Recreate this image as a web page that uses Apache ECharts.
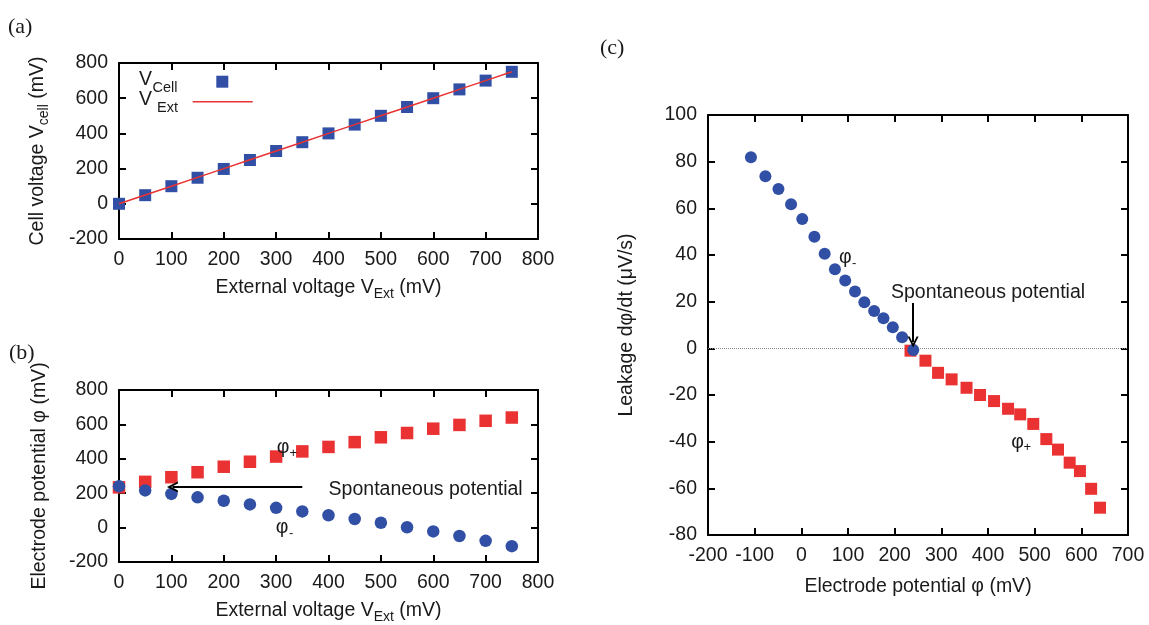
<!DOCTYPE html>
<html>
<head>
<meta charset="utf-8">
<script src="https://cdn.jsdelivr.net/npm/echarts@6/dist/echarts.min.js"></script>
<style>
html,body{margin:0;padding:0;background:#fff;}
#chart{width:1149px;height:625px;}
</style>
</head>
<body>
<div id="chart"></div>
<script>
// ---------- data ----------
// (a) cell voltage vs external voltage
const vExt = [0, 50, 100, 150, 200, 250, 300, 350, 400, 450, 500, 550, 600, 650, 700, 750];
const vCell = [0, 49, 100, 148, 198, 249, 300, 350, 400, 450, 500, 550, 600, 650, 700, 750];
// (b) electrode potentials vs external voltage
const phiPlus = [234, 266, 293, 322, 354, 383, 413, 443, 469, 497, 525, 550, 575, 597, 621, 640];
const phiMinus = [240, 216, 196, 176, 156, 135, 115, 94, 72, 50, 28, 2, -22, -49, -77, -108];
// (c) leakage vs electrode potential
const leakPlus = [-1.0, -5.3, -10.5, -13.3, -16.9, -20.0, -22.6, -25.9, -28.3, -32.4, -38.9, -43.4, -49.0, -52.6, -60.2, -68.3];
const leakMinus = [-0.7, 4.7, 9.0, 12.9, 16.0, 19.7, 24.4, 29.1, 33.9, 40.5, 47.8, 55.4, 61.8, 68.3, 73.7, 81.9];
// annotation arrows (data coordinates)
const arrowB = [[350, 236], [102, 236]];
const arrowC = [[239.5, 19.4], [239.5, 2.7]];

// ---------- style ----------
const FONT = 'Liberation Sans, Arial, Helvetica, sans-serif';
const BLUE = '#3150a5';
const RED = '#ea3232';
const TXT = '#1a1a1a';
const FS = 19.5;
const ARROW = 'path://M0,12 L5,0 L10,12 L8.2,12 L5,4.5 L1.8,12 Z';

const richName = {
  m: {fontSize: FS, fontFamily: FONT, color: TXT},
  s: {fontSize: 14, fontFamily: FONT, color: TXT, padding: [13, 0, 0, 0]}
};

function baseAxis(extra) {
  return Object.assign({
    type: 'value',
    axisLine: {show: true, onZero: false, lineStyle: {color: '#000', width: 2}},
    axisTick: {show: true, inside: true, length: 7, lineStyle: {color: '#000', width: 2}},
    splitLine: {show: false},
    axisLabel: {show: true, color: TXT, fontSize: FS, fontFamily: FONT, margin: 11,
                showMinLabel: true, showMaxLabel: true},
    nameLocation: 'middle',
    nameTextStyle: {rich: richName}
  }, extra);
}
function mirror(extra) {
  const a = baseAxis(extra);
  a.axisLabel = {show: false};
  return a;
}

const xAxes = [
  baseAxis({gridIndex: 0, position: 'bottom', min: 0, max: 800, interval: 100,
    name: '{m|External voltage V}{s|Ext}{m| (mV)}', nameGap: 35}),
  mirror({gridIndex: 0, position: 'top', min: 0, max: 800, interval: 100}),
  baseAxis({gridIndex: 1, position: 'bottom', min: 0, max: 800, interval: 100,
    name: '{m|External voltage V}{s|Ext}{m| (mV)}', nameGap: 35}),
  mirror({gridIndex: 1, position: 'top', min: 0, max: 800, interval: 100}),
  baseAxis({gridIndex: 2, position: 'bottom', min: -200, max: 700, interval: 100,
    name: '{m|Electrode potential φ (mV)}', nameGap: 42}),
  mirror({gridIndex: 2, position: 'top', min: -200, max: 700, interval: 100})
];
const yAxes = [
  baseAxis({gridIndex: 0, position: 'left', min: -200, max: 800, interval: 200,
    name: '{m|Cell voltage V}{s|cell}{m| (mV)}', nameGap: 68}),
  mirror({gridIndex: 0, position: 'right', min: -200, max: 800, interval: 200}),
  baseAxis({gridIndex: 1, position: 'left', min: -200, max: 800, interval: 200,
    name: '{m|Electrode potential φ (mV)}', nameGap: 69}),
  mirror({gridIndex: 1, position: 'right', min: -200, max: 800, interval: 200}),
  baseAxis({gridIndex: 2, position: 'left', min: -80, max: 100, interval: 20,
    name: '{m|Leakage dφ/dt (μV/s)}', nameGap: 71}),
  mirror({gridIndex: 2, position: 'right', min: -80, max: 100, interval: 20})
];

function txt(text, x, y, size, family, align) {
  return {type: 'text', x: x, y: y, silent: true, z: 100,
    style: {text: text, fill: TXT, fontSize: size, fontFamily: family || FONT,
            align: align || 'left', verticalAlign: 'middle'}};
}
const SERIF = 'Liberation Serif, DejaVu Serif, serif';

function arrowLine(pts) {
  return {silent: true, symbol: ['none', ARROW], symbolSize: 11, z: 5,
    lineStyle: {color: '#000', width: 2, type: 'solid', opacity: 1},
    itemStyle: {color: '#000'},
    label: {show: false}, emphasis: {disabled: true},
    data: [[{coord: pts[0]}, {coord: pts[1]}]]};
}

const option = {
  animation: false,
  backgroundColor: '#fff',
  grid: [
    {left: 119, top: 63, width: 419, height: 176},
    {left: 119, top: 390, width: 419, height: 176},
    {left: 708, top: 115, width: 420, height: 420}
  ],
  xAxis: xAxes,
  yAxis: yAxes,
  series: [
    {type: 'scatter', xAxisIndex: 0, yAxisIndex: 0, symbol: 'rect', symbolSize: 12,
     itemStyle: {color: BLUE, opacity: 1}, data: vExt.map((v, i) => [v, vCell[i]])},
    {type: 'line', xAxisIndex: 0, yAxisIndex: 0, showSymbol: false, symbol: 'none',
     lineStyle: {color: RED, width: 1.5}, data: vExt.map(v => [v, v])},
    {type: 'scatter', xAxisIndex: 2, yAxisIndex: 2, symbol: 'rect', symbolSize: 12.5,
     itemStyle: {color: RED, opacity: 1}, data: vExt.map((v, i) => [v, phiPlus[i]])},
    {type: 'scatter', xAxisIndex: 2, yAxisIndex: 2, symbol: 'circle', symbolSize: 12.5,
     itemStyle: {color: BLUE, opacity: 1}, data: vExt.map((v, i) => [v, phiMinus[i]]),
     markLine: arrowLine(arrowB)},
    {type: 'scatter', xAxisIndex: 4, yAxisIndex: 4, symbol: 'rect', symbolSize: 12,
     itemStyle: {color: RED, opacity: 1}, data: phiPlus.map((p, i) => [p, leakPlus[i]]),
     markLine: {silent: true, symbol: ['none', 'none'], z: 1,
       lineStyle: {color: '#888', width: 1, type: 'dotted'}, label: {show: false},
       emphasis: {disabled: true}, data: [{yAxis: 0}]}},
    {type: 'scatter', xAxisIndex: 4, yAxisIndex: 4, symbol: 'circle', symbolSize: 12,
     itemStyle: {color: BLUE, opacity: 1}, data: phiMinus.map((p, i) => [p, leakMinus[i]]),
     markLine: arrowLine(arrowC)}
  ],
  graphic: [
    txt('(a)', 8, 27, 22, SERIF),
    txt('(b)', 9, 353, 22, SERIF),
    txt('(c)', 600, 48, 22, SERIF),
    // legend of (a)
    txt('V', 139, 80, FS),
    txt('Cell', 152.5, 88, 14.5),
    {type: 'rect', silent: true, shape: {x: 216.3, y: 75.7, width: 12, height: 12}, style: {fill: BLUE}},
    txt('V', 139, 100, FS),
    txt('Ext', 157, 108, 14.5),
    {type: 'line', silent: true, shape: {x1: 192.7, y1: 101.7, x2: 252.7, y2: 101.7}, style: {stroke: RED, lineWidth: 1.5}},
    // annotations (b)
    txt('φ', 283, 448, FS, FONT, 'center'),
    txt('+', 289.5, 453, 13),
    txt('φ', 282, 528, FS, FONT, 'center'),
    txt('-', 289, 533, 13),
    txt('Spontaneous potential', 328.6, 489.3, FS),
    // annotations (c)
    txt('φ', 845.3, 258, FS, FONT, 'center'),
    txt('-', 852, 263, 13),
    txt('Spontaneous potential', 891, 292.7, FS),
    txt('φ', 1017.5, 443, FS, FONT, 'center'),
    txt('+', 1023.5, 447, 13)
  ]
};

const chart = echarts.init(document.getElementById('chart'), null, {renderer: 'canvas'});
chart.setOption(option);
</script>
</body>
</html>
